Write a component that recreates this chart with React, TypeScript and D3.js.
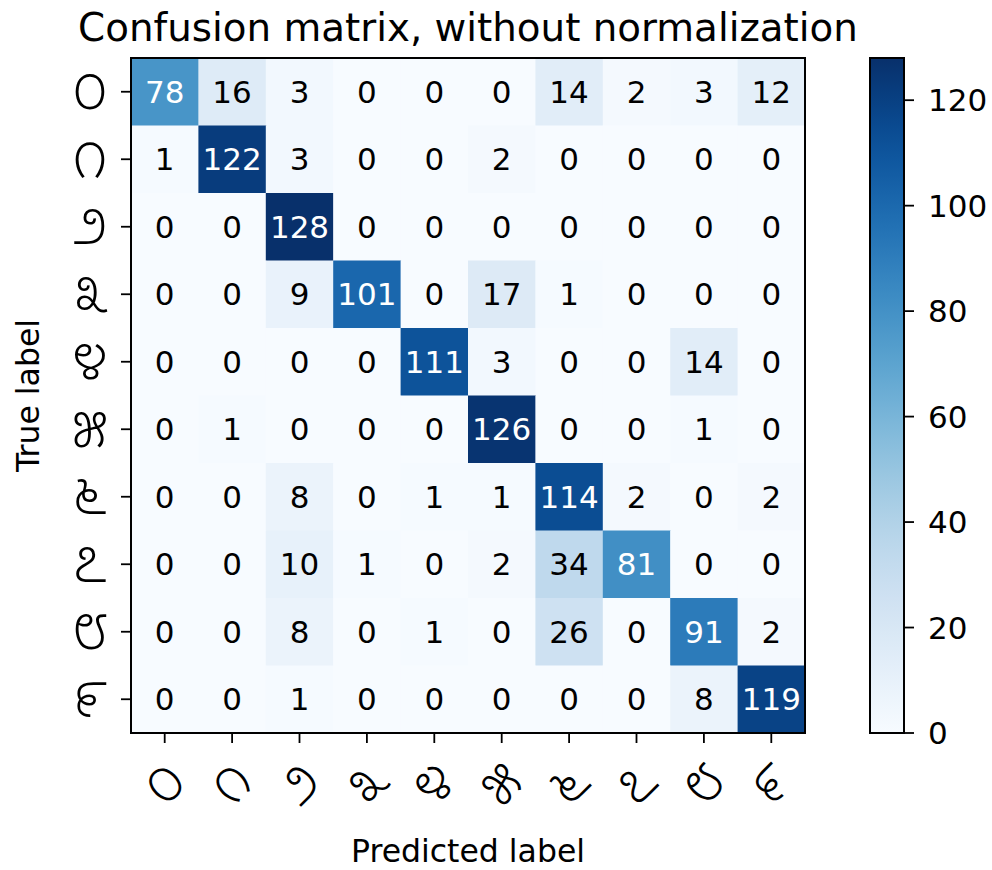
import React from "react";
import * as d3 from "d3";

const classLabels = ["೦", "೧", "೨", "೩", "೪", "೫", "೬", "೭", "೮", "೯"];
const row0 = [78, 16, 3, 0, 0, 0, 14, 2, 3, 12];
const row1 = [1, 122, 3, 0, 0, 2, 0, 0, 0, 0];
const row2 = [0, 0, 128, 0, 0, 0, 0, 0, 0, 0];
const row3 = [0, 0, 9, 101, 0, 17, 1, 0, 0, 0];
const row4 = [0, 0, 0, 0, 111, 3, 0, 0, 14, 0];
const row5 = [0, 1, 0, 0, 0, 126, 0, 0, 1, 0];
const row6 = [0, 0, 8, 0, 1, 1, 114, 2, 0, 2];
const row7 = [0, 0, 10, 1, 0, 2, 34, 81, 0, 0];
const row8 = [0, 0, 8, 0, 1, 0, 26, 0, 91, 2];
const row9 = [0, 0, 1, 0, 0, 0, 0, 0, 8, 119];
const matrix = [row0, row1, row2, row3, row4, row5, row6, row7, row8, row9];
const colorbarTicks = [0, 20, 40, 60, 80, 100, 120];
const titleText = "Confusion matrix, without normalization";
const xTitle = "Predicted label";
const yTitle = "True label";

const W = 992, H = 870;
const plot = { left: 131, right: 805, top: 58, bottom: 733 };
const cb = { left: 870, right: 904, top: 58, bottom: 733 };
const FONT = "DejaVu Sans, sans-serif";
const KN_FONT = "'Noto Sans Kannada', 'Lohit Kannada', 'Noto Serif Kannada', 'DejaVu Sans', sans-serif";
const TICK = 10;

export default function App() {
  const vmax = d3.max(matrix.flat()) as number;
  const x = d3.scaleBand<number>().domain(d3.range(10)).range([plot.left, plot.right]);
  const y = d3.scaleBand<number>().domain(d3.range(10)).range([plot.top, plot.bottom]);
  const color = d3.scaleSequential(d3.interpolateBlues).domain([0, vmax]);
  const cbScale = d3.scaleLinear().domain([0, vmax]).range([cb.bottom, cb.top]);
  const thresh = vmax / 2;
  const stops = d3.range(0, 1.0001, 0.05);

  return (
    <svg width={W} height={H} style={{ display: "block", position: "absolute", left: 0, top: 0 }}>
      <defs>
        <linearGradient id="cbgrad" x1="0" y1="1" x2="0" y2="0">
          {stops.map((s) => (
            <stop key={s} offset={s} stopColor={d3.interpolateBlues(s)} />
          ))}
        </linearGradient>
      </defs>
      <rect x={0} y={0} width={W} height={H} fill="white" />
      <text x={(plot.left + plot.right) / 2} y={41} textAnchor="middle" fontFamily={FONT} fontSize={38.8}>
        {titleText}
      </text>
      {matrix.map((row, i) =>
        row.map((v, j) => (
          <rect key={`c${i}-${j}`} x={x(j)} y={y(i)} width={x.bandwidth() + 0.5} height={y.bandwidth() + 0.5} fill={color(v)} />
        ))
      )}
      {matrix.map((row, i) =>
        row.map((v, j) => (
          <text
            key={`t${i}-${j}`}
            x={(x(j) as number) + x.bandwidth() / 2}
            y={(y(i) as number) + y.bandwidth() / 2}
            dy="0.36em"
            textAnchor="middle"
            fontFamily={FONT}
            fontSize={31}
            fill={v > thresh ? "white" : "black"}
          >
            {v}
          </text>
        ))
      )}
      <rect x={plot.left} y={plot.top} width={plot.right - plot.left} height={plot.bottom - plot.top} fill="none" stroke="black" strokeWidth={2} />
      {classLabels.map((lab, i) => {
        const cx = (x(i) as number) + x.bandwidth() / 2;
        const cy = (y(i) as number) + y.bandwidth() / 2;
        return (
          <g key={`l${i}`}>
            <line x1={cx} x2={cx} y1={plot.bottom} y2={plot.bottom + TICK} stroke="black" strokeWidth={1.8} />
            <line x1={plot.left - TICK} x2={plot.left} y1={cy} y2={cy} stroke="black" strokeWidth={1.8} />
            <text x={plot.left - 41} y={cy + 4} dy="0.27em" textAnchor="middle" fontFamily={KN_FONT} fontWeight={300} fontSize={50}>
              {lab}
            </text>
            <text
              transform={`translate(${cx + 3},${plot.bottom + 54}) rotate(-45)`}
              dy="0.27em"
              textAnchor="middle"
              fontFamily={KN_FONT}
              fontWeight={300}
              fontSize={48}
            >
              {lab}
            </text>
          </g>
        );
      })}
      <text x={(plot.left + plot.right) / 2} y={862} textAnchor="middle" fontFamily={FONT} fontSize={31.5}>
        {xTitle}
      </text>
      <text transform={`translate(39,${(plot.top + plot.bottom) / 2}) rotate(-90)`} textAnchor="middle" fontFamily={FONT} fontSize={31.5}>
        {yTitle}
      </text>
      <rect x={cb.left} y={cb.top} width={cb.right - cb.left} height={cb.bottom - cb.top} fill="url(#cbgrad)" stroke="black" strokeWidth={2} />
      {colorbarTicks.map((t) => (
        <g key={`cb${t}`}>
          <line x1={cb.right} x2={cb.right + TICK} y1={cbScale(t)} y2={cbScale(t)} stroke="black" strokeWidth={1.8} />
          <text x={cb.right + 24} y={cbScale(t)} dy="0.36em" fontFamily={FONT} fontSize={31}>
            {t}
          </text>
        </g>
      ))}
    </svg>
  );
}
